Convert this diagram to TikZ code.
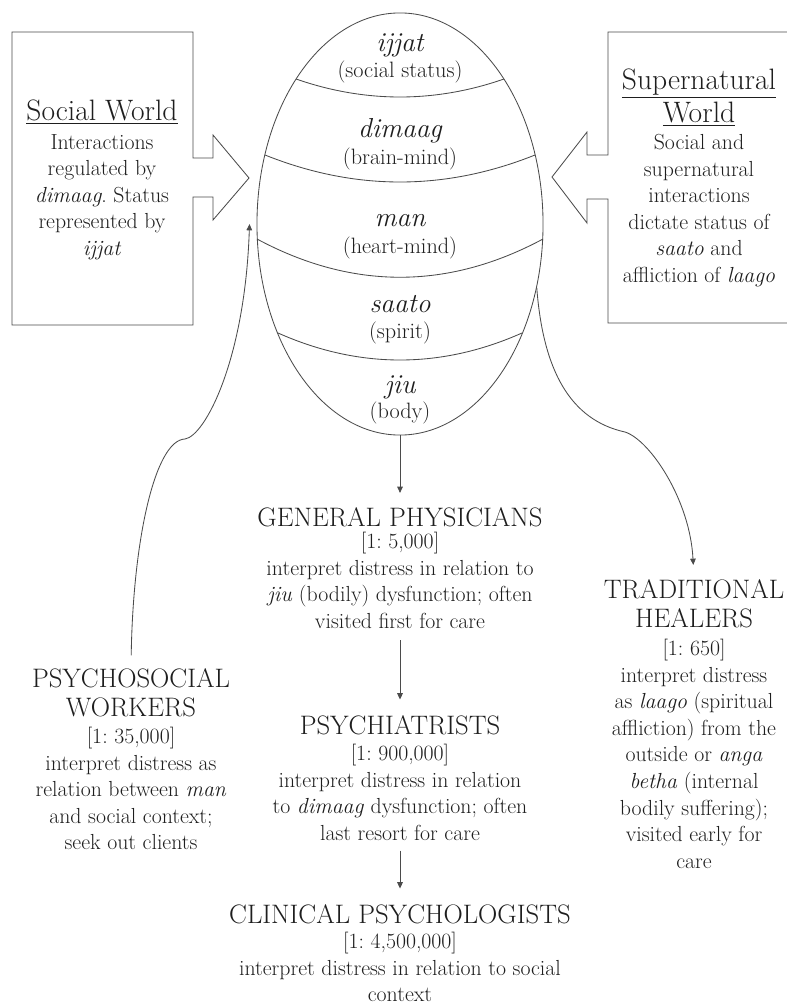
\documentclass[tikz,border=0pt]{standalone}
\usepackage{fontspec}
\usepackage{xcolor}
\usepackage{tikz}
\usetikzlibrary{arrows.meta,positioning,shapes.geometric}
\definecolor{InkGray}{RGB}{30,30,30}
\definecolor{LineGray}{RGB}{75,75,75}
\newcommand{\txtbody}{\fontsize{15.5}{18.9}\selectfont\frenchspacing}
\newcommand{\txtcaps}{\fontsize{19}{21}\selectfont}
\newcommand{\txthead}{\fontsize{21}{23.5}\selectfont}
\newcommand{\txtword}{\fontsize{19.5}{22}\selectfont\itshape}
\newcommand{\txtgloss}{\fontsize{15.8}{18}\selectfont}

\begin{document}
\begin{tikzpicture}[x=0.025cm, y=-0.025cm, >={Triangle[length=4.5pt,width=4pt]},
    pen/.style={draw=LineGray, line width=0.6pt},
    link/.style={->, pen},
    blurb/.style={font=\txtbody, text=InkGray, align=center, inner sep=0pt, anchor=north},
    jobtitle/.style={font=\txtcaps, text=InkGray, align=center, inner sep=0pt, anchor=north},
    boxhead/.style={font=\txthead, text=InkGray, align=center, inner sep=0pt, anchor=north},
    eggword/.style={font=\txtword, text=InkGray, inner sep=0pt, anchor=base},
    egggloss/.style={font=\txtgloss, text=InkGray, inner sep=0pt, anchor=base}]
    \useasboundingbox (0,0) rectangle (787,1004);

    % Egg
    \node [pen, ellipse, minimum width=7.15cm, minimum height=10.55cm, inner sep=0pt] (egg) at (400,224) {};
    \draw [pen] (296,79) .. controls (365,103) and (435,103) .. (504,79);
    \draw [pen] (265,155) .. controls (355,191) and (445,191) .. (535,155);
    \draw [pen] (257,239) .. controls (352,290) and (448,290) .. (543,239);
    \draw [pen] (278,333) .. controls (359,369) and (441,369) .. (522,333);
    \foreach \word/\gloss/\yw/\yg in {ijjat/social status/52/78, dimaag/brain-mind/138/165,
        man/heart-mind/227/253, saato/spirit/312/338, jiu/body/393/418} {
        \node [eggword] (w-\word) at (400,\yw) {\word};
        \node [egggloss] (g-\word) at (400,\yg) {(\gloss)};
    }

    % Worlds
    \draw [pen] (193,197) -- (193,325) -- (12,325) -- (12,32) -- (193,32) -- (193,158)
        -- (213,158) -- (213,135) -- (249,178) -- (213,220) -- (213,197) -- cycle;
    \node [boxhead] (swhead) at (102,100) {\underline{Social World}};
    \node [blurb] (swtext) at (102,134) {Interactions\\regulated by\\\textit{dimaag}. Status\\represented by\\\textit{ijjat}};

    \draw [pen] (787,32) -- (608,32) -- (608,155) -- (587,155) -- (587,132) -- (552,177)
        -- (587,223) -- (587,199) -- (608,199) -- (608,323) -- (787,323);
    \node [boxhead] (suphead) at (699,69) {\underline{Supernatural}\\\underline{World}};
    \node [blurb] (suptext) at (699,134) {Social and\\supernatural\\interactions\\dictate status of\\\textit{saato} and\\affliction of \textit{laago}};

    % Providers
    \node [jobtitle] (gp) at (400,507) {GENERAL PHYSICIANS};
    \node [blurb] (gptext) at (400,532) {[1: 5,000]\\interpret distress in relation to\\\textit{jiu} (bodily) dysfunction; often\\visited first for care};

    \node [jobtitle] (psy) at (400,715) {PSYCHIATRISTS};
    \node [blurb] (psytext) at (400,744) {[1: 900,000]\\interpret distress in relation\\to \textit{dimaag} dysfunction; often\\last resort for care};

    \node [jobtitle] (cp) at (400,904) {CLINICAL PSYCHOLOGISTS};
    \node [blurb] (cptext) at (400,932) {[1: 4,500,000]\\interpret distress in relation to social\\context};

    \node [jobtitle] (psw) at (131,668) {PSYCHOSOCIAL\\WORKERS};
    \node [blurb] (pswtext) at (131,727) {[1: 35,000]\\interpret distress as\\relation between \textit{man}\\and social context;\\seek out clients};

    \node [jobtitle] (th) at (694,579) {TRADITIONAL\\HEALERS};
    \node [blurb] (thtext) at (694,639) {[1: 650]\\interpret distress\\as \textit{laago} (spiritual\\affliction) from the\\outside or \textit{anga}\\\textit{betha} (internal\\bodily suffering);\\visited early for\\care};

    % Pathways
    \draw [link, shorten >=10pt] (egg.south) -- (gp.north);
    \draw [link, shorten <=8pt, shorten >=11pt] (gptext.south) -- (psy.north);
    \draw [link, shorten <=7pt, shorten >=11pt] (psytext.south) -- (cp.north);
    \draw [link, shorten <=9pt] (psw.north) .. controls (133,540) and (155,440) .. (185,439)
        .. controls (205,436) and (245,360) .. ([xshift=-5pt]egg.west);
    \draw [link, shorten >=10pt] (egg.-25) .. controls (543,370) and (570,420) .. (625,432)
        .. controls (650,440) and (690,500) .. (th.north);
\end{tikzpicture}
\end{document}
